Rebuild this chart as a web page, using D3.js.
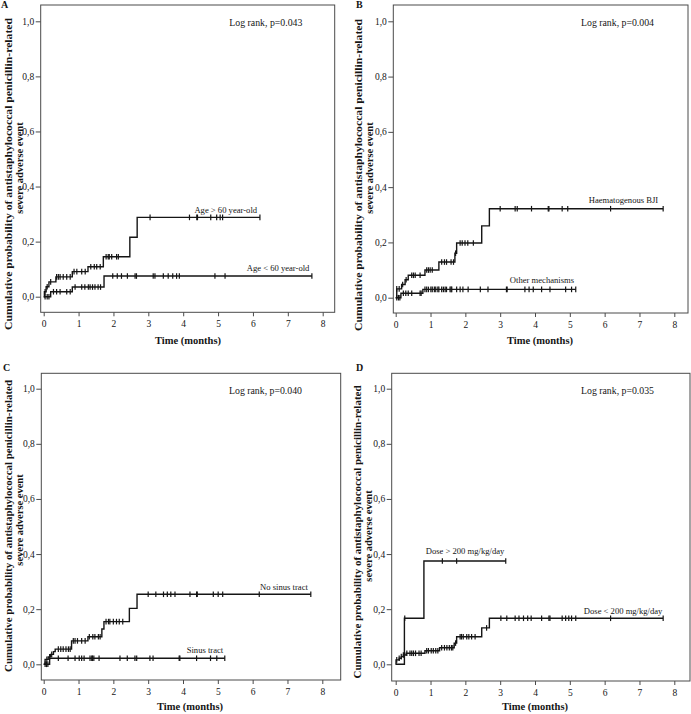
<!DOCTYPE html>
<html><head><meta charset="utf-8">
<script src="https://cdn.jsdelivr.net/npm/d3@7"></script>
<style>
body{margin:0;background:#fff}
svg{display:block}
</style>
</head><body>
<svg id="chart" width="691" height="714"></svg>
<script>
// ---------------- DATA ----------------
const panelLetters = ["A", "B", "C", "D"];
const logRankLabels = ["Log rank, p=0.043", "Log rank, p=0.004", "Log rank, p=0.040", "Log rank, p=0.035"];
const yTickValues = [0, 0.2, 0.4, 0.6, 0.8, 1.0];
const xTickValues = [0, 1, 2, 3, 4, 5, 6, 7, 8];
const yTitleLines = ["Cumulative probability of antistaphylococcal penicillin-related", "severe adverse event"];
const xTitle = "Time (months)";

// Panel A
const A1_name = "Age > 60 year-old";
const A1_steps = [[0,0],[0.02,0.018],[0.07,0.036],[0.15,0.054],[0.35,0.072],[0.82,0.091],[1.27,0.109],[1.71,0.145],[2.47,0.216],[2.68,0.288]];
const A1_end = 6.2;
const A1_censored = [0.04,0.1,0.2,0.37,0.42,0.47,0.56,0.66,0.76,0.87,0.95,1.09,1.19,1.35,1.45,1.52,1.62,1.79,1.85,1.88,1.95,2.09,2.14,3.05,4.18,4.39,4.41,4.79,4.96,5.06,5.13,6.2];
const A2_name = "Age < 60 year-old";
const A2_steps = [[0,0],[0.2,0.018],[0.82,0.035],[1.73,0.075]];
const A2_end = 7.69;
const A2_censored = [0.04,0.1,0.15,0.28,0.37,0.47,0.66,0.76,0.9,1.09,1.18,1.28,1.33,1.4,1.47,1.56,1.63,1.98,2.11,2.23,2.4,2.62,2.66,3.14,3.19,3.43,3.57,3.7,3.81,3.89,4.91,5.2,7.69];

// Panel B
const B1_name = "Haematogenous BJI";
const B1_steps = [[0,0],[0.03,0.032],[0.17,0.048],[0.27,0.065],[0.36,0.081],[0.84,0.1],[1.24,0.129],[1.7,0.161],[1.75,0.198],[2.47,0.26],[2.69,0.322]];
const B1_end = 7.68;
const B1_censored = [0.03,0.1,0.2,0.3,0.46,0.51,0.56,0.7,0.89,0.94,0.99,1.05,1.32,1.4,1.46,1.59,1.66,1.72,1.85,1.91,1.99,2.07,2.23,3.0,3.43,3.49,3.9,4.38,4.4,4.78,4.94,6.17,7.68];
const B2_name = "Other mechanisms";
const B2_steps = [[0,0],[0.15,0.016],[0.78,0.03]];
const B2_end = 5.17;
const B2_censored = [0.03,0.08,0.12,0.22,0.29,0.36,0.46,0.7,0.73,0.84,0.89,0.94,1.01,1.05,1.11,1.15,1.21,1.24,1.32,1.37,1.42,1.46,1.56,1.59,1.61,1.75,1.85,1.93,2.08,2.43,2.65,3.18,3.2,3.71,3.83,3.95,4.19,4.43,4.88,5.05,5.17];

// Panel C
const C1_name = "No sinus tract";
const C1_steps = [[0,0],[0.04,0.018],[0.13,0.027],[0.2,0.036],[0.28,0.046],[0.33,0.055],[0.8,0.085],[1.27,0.1],[1.67,0.128],[1.73,0.155],[2.46,0.203],[2.68,0.254]];
const C1_end = 7.67;
const C1_censored = [0.09,0.17,0.23,0.42,0.49,0.56,0.64,0.71,0.76,0.85,0.9,0.97,1.09,1.19,1.31,1.41,1.47,1.57,1.62,1.79,1.86,1.9,2.0,2.09,2.17,2.27,3.0,3.22,3.44,3.55,3.65,3.77,4.2,4.39,4.41,4.87,5.01,5.14,6.19,7.67];
const C2_name = "Sinus tract";
const C2_steps = [[0,0],[0.17,0.022]];
const C2_end = 5.2;
const C2_censored = [0.04,0.08,0.12,0.42,0.7,0.9,1.02,1.09,1.16,1.33,1.38,1.4,1.44,1.59,2.19,2.4,2.62,2.67,3.05,3.14,3.89,3.91,4.39,4.79,4.97,5.2];

// Panel D
const D1_name = "Dose > 200 mg/kg/day";
const D1_steps = [[0,0],[0.25,0.167],[0.81,0.375]];
const D1_end = 3.16;
const D1_censored = [0.26,1.34,1.75,3.16];
const D2_name = "Dose < 200 mg/kg/day";
const D2_steps = [[0,0],[0.01,0.016],[0.1,0.022],[0.16,0.028],[0.22,0.034],[0.3,0.04],[0.84,0.049],[1.26,0.06],[1.68,0.077],[1.75,0.1],[2.47,0.132],[2.69,0.167]];
const D2_end = 7.68;
const D2_censored = [0.03,0.1,0.16,0.22,0.32,0.41,0.46,0.51,0.57,0.67,0.73,0.89,0.94,1.02,1.08,1.15,1.21,1.32,1.4,1.47,1.54,1.6,1.64,1.72,1.85,1.89,1.94,2.04,2.1,2.18,2.28,2.61,3.02,3.19,3.43,3.54,3.67,3.79,3.89,4.19,4.4,4.43,4.78,4.88,4.97,5.05,5.17,6.17,7.68];

// label anchor points in data units (months, probability)
const A_labelAt = [[5.22,0.304],[6.72,0.094]];
const B_labelAt = [[6.54,0.342],[4.2,0.052]];
const C_labelAt = [[6.9,0.27],[4.63,0.041]];
const D_labelAt = [[1.99,0.40],[6.53,0.181]];
const logRankAt = [6.37, 0.982];

// ---------------- LAYOUT ----------------
const panels = [
  {letter: panelLetters[0], logrank: logRankLabels[0],
   series: [{name:A1_name, steps:A1_steps, end:A1_end, cens:A1_censored, at:A_labelAt[0]},
            {name:A2_name, steps:A2_steps, end:A2_end, cens:A2_censored, at:A_labelAt[1]}],
   frame:[40.7,5,334.7,312.3], xr:[43.7,322.7], yr:[296.7,21.3],
   letterPos:[1,7.5], yt1:[11.5,174,312], yt2:[22.5,168], xt:[188,344]},
  {letter: panelLetters[1], logrank: logRankLabels[1],
   series: [{name:B1_name, steps:B1_steps, end:B1_end, cens:B1_censored, at:B_labelAt[0]},
            {name:B2_name, steps:B2_steps, end:B2_end, cens:B2_censored, at:B_labelAt[1]}],
   frame:[393.3,5,688,313], xr:[395.7,674.3], yr:[297.7,21.3],
   letterPos:[356,8], yt1:[362,175,312], yt2:[373,168], xt:[540,344]},
  {letter: panelLetters[2], logrank: logRankLabels[2],
   series: [{name:C1_name, steps:C1_steps, end:C1_end, cens:C1_censored, at:C_labelAt[0]},
            {name:C2_name, steps:C2_steps, end:C2_end, cens:C2_censored, at:C_labelAt[1]}],
   frame:[41.3,373.3,340.7,680], xr:[43.7,322.3], yr:[664.3,388.7],
   letterPos:[3,371], yt1:[11.5,526,292], yt2:[22.5,520], xt:[190,710]},
  {letter: panelLetters[3], logrank: logRankLabels[3],
   series: [{name:D1_name, steps:D1_steps, end:D1_end, cens:D1_censored, at:D_labelAt[0]},
            {name:D2_name, steps:D2_steps, end:D2_end, cens:D2_censored, at:D_labelAt[1]}],
   frame:[391.7,373.3,690,681], xr:[395.7,674.3], yr:[664.3,388.7],
   letterPos:[356,371], yt1:[361,532,293], yt2:[372,536], xt:[535,710]}
];

const SERIF = "'Liberation Serif','Times New Roman',serif";
const INK = "#151515";
const svg = d3.select("#chart");

function valueAt(steps, t) {
  let v = steps[0][1];
  for (const s of steps) { if (s[0] <= t) v = s[1]; }
  return v;
}

panels.forEach(p => {
  const g = svg.append("g");
  const x = d3.scaleLinear().domain([0, 8]).range(p.xr);
  const y = d3.scaleLinear().domain([0, 1]).range(p.yr);
  const [fl, ft, fr, fb] = p.frame;

  // frame
  g.append("rect").attr("x", fl).attr("y", ft).attr("width", fr - fl).attr("height", fb - ft)
    .attr("fill", "none").attr("stroke", "#4a4a4a").attr("stroke-width", 1);

  // y axis
  const yAxis = g.append("g").attr("transform", `translate(${fl},0)`)
    .call(d3.axisLeft(y).tickValues(yTickValues).tickSize(5).tickPadding(1.5)
      .tickFormat(d => d3.format(".1f")(d).replace(".", ",")));
  yAxis.select(".domain").remove();
  yAxis.selectAll("line").attr("stroke", "#4a4a4a");
  yAxis.selectAll("text").attr("font-family", SERIF).attr("font-size", 9.5).attr("fill", INK);

  // x axis
  const xAxis = g.append("g").attr("transform", `translate(0,${fb})`)
    .call(d3.axisBottom(x).tickValues(xTickValues).tickSize(4).tickPadding(4).tickFormat(d3.format("d")));
  xAxis.select(".domain").remove();
  xAxis.selectAll("line").attr("stroke", "#4a4a4a");
  xAxis.selectAll("text").attr("font-family", SERIF).attr("font-size", 9.5).attr("fill", INK);

  // panel letter
  g.append("text").attr("x", p.letterPos[0]).attr("y", p.letterPos[1]).text(p.letter)
    .attr("font-family", SERIF).attr("font-weight", "bold").attr("font-size", 10).attr("fill", INK);

  // y title (two lines)
  g.append("text").attr("transform", `translate(${p.yt1[0]},${p.yt1[1]}) rotate(-90)`)
    .attr("text-anchor", "middle").attr("font-family", SERIF).attr("font-weight", "bold")
    .attr("font-size", 10.5).attr("fill", INK)
    .attr("textLength", p.yt1[2]).attr("lengthAdjust", "spacingAndGlyphs")
    .text(yTitleLines[0]);
  g.append("text").attr("transform", `translate(${p.yt2[0]},${p.yt2[1]}) rotate(-90)`)
    .attr("text-anchor", "middle").attr("font-family", SERIF).attr("font-weight", "bold")
    .attr("font-size", 10.5).attr("fill", INK).text(yTitleLines[1]);

  // x title
  g.append("text").attr("x", p.xt[0]).attr("y", p.xt[1]).attr("text-anchor", "middle")
    .attr("font-family", SERIF).attr("font-weight", "bold").attr("font-size", 10.5).attr("fill", INK)
    .text(xTitle);

  // log rank
  g.append("text").attr("x", x(logRankAt[0])).attr("y", y(logRankAt[1])).attr("text-anchor", "middle")
    .attr("font-family", SERIF).attr("font-size", 9.8).attr("fill", INK).text(p.logrank);

  // curves
  const line = d3.line().x(d => x(d[0])).y(d => y(d[1])).curve(d3.curveStepAfter);
  p.series.forEach(s => {
    const pts = s.steps.concat([[s.end, s.steps[s.steps.length - 1][1]]]);
    g.append("path").attr("d", line(pts)).attr("fill", "none")
      .attr("stroke", INK).attr("stroke-width", 1.4);
    g.selectAll(null).data(s.cens).enter().append("line")
      .attr("x1", d => x(d)).attr("x2", d => x(d))
      .attr("y1", d => y(valueAt(s.steps, d)) - 2.8)
      .attr("y2", d => y(valueAt(s.steps, d)) + 2.8)
      .attr("stroke", INK).attr("stroke-width", 1.2);
    g.append("text").attr("x", x(s.at[0])).attr("y", y(s.at[1])).attr("text-anchor", "middle")
      .attr("font-family", SERIF).attr("font-size", 8.6).attr("fill", INK).text(s.name);
  });
});
</script>
</body></html>
